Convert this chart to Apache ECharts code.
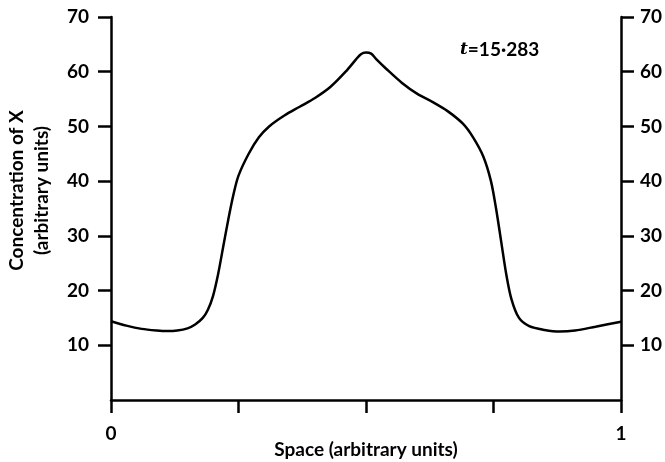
<!DOCTYPE html>
<html>
<head>
<meta charset="utf-8">
<script src="https://cdn.jsdelivr.net/npm/echarts@6/dist/echarts.min.js"></script>
<style>
  html, body { margin: 0; padding: 0; background: #fff; }
  #main { width: 665px; height: 462px; }
</style>
</head>
<body>
<div id="main"></div>
<script>
// space positions (0..1) and concentration of X
var spaceX = [0, 0.03, 0.06, 0.09, 0.11, 0.13, 0.15, 0.165, 0.18, 0.19, 0.2, 0.21, 0.22, 0.23, 0.24, 0.25,
  0.27, 0.29, 0.31, 0.34, 0.37, 0.40, 0.43, 0.46, 0.48, 0.49, 0.5, 0.51, 0.52, 0.54, 0.57, 0.6,
  0.63, 0.66, 0.69, 0.71, 0.73, 0.745, 0.755, 0.765, 0.775, 0.785, 0.8, 0.82, 0.85, 0.88, 0.91, 0.95, 1];
var concX = [14.4, 13.6, 13.0, 12.7, 12.6, 12.7, 13.1, 13.8, 15.0, 16.5, 19.0, 23.0, 28.0, 33.0, 37.5, 41.0,
  45.0, 48.0, 50.0, 52.0, 53.6, 55.2, 57.2, 60.0, 62.2, 63.2, 63.5, 63.3, 62.3, 60.5, 58.0, 56.0,
  54.5, 52.8, 50.5, 48.0, 44.5, 40.0, 35.0, 29.0, 23.0, 18.5, 15.0, 13.5, 12.8, 12.5, 12.7, 13.4, 14.3];
var yTicks = [10, 20, 30, 40, 50, 60, 70];
var xTicks = [0, 0.25, 0.5, 0.75, 1];
var xLabels = [0, 1];

var data = [];
for (var i = 0; i < spaceX.length; i++) {
  data.push([spaceX[i], concX[i]]);
}

var font = 'Lato';
var txt = { fontFamily: font, fontSize: 19, fontWeight: 'bold', color: '#000' };
var axisLine = { show: true, lineStyle: { color: '#000', width: 2.5 } };
var tickStyle = { color: '#000', width: 2.5 };

var myChart = echarts.init(document.getElementById('main'));
var option = {
  backgroundColor: '#fff',
  animation: false,
  title: {
    left: 455,
    top: 35,
    text: '{i|t}=15·283',
    textStyle: {
      rich: {
        i: { fontStyle: 'italic', fontFamily: 'DejaVu Serif', fontSize: 17, color: '#000' }
      },
      fontFamily: font,
      fontSize: 19,
      fontWeight: 'bold',
      color: '#000'
    }
  },
  grid: { left: 111, right: 44, top: 17, bottom: 62, outerBoundsMode: 'none' },
  xAxis: {
    type: 'value',
    min: 0,
    max: 1,
    name: 'Space (arbitrary units)',
    nameLocation: 'middle',
    nameGap: 40,
    nameMoveOverlap: false,
    nameTextStyle: txt,
    axisLine: axisLine,
    splitLine: { show: false },
    axisTick: { show: true, length: 13, customValues: xTicks, lineStyle: tickStyle },
    axisLabel: Object.assign({ customValues: xLabels, margin: 24 }, txt)
  },
  yAxis: [{
    type: 'value',
    min: 0,
    max: 70,
    position: 'left',
    name: 'Concentration of X\n(arbitrary units)',
    nameLocation: 'middle',
    nameGap: 57,
    nameMoveOverlap: false,
    nameRotate: 90,
    nameTextStyle: Object.assign({ lineHeight: 25, padding: [0, 0, 0, 36] }, txt),
    axisLine: axisLine,
    splitLine: { show: false },
    axisTick: { show: true, length: 13, customValues: yTicks, lineStyle: tickStyle },
    axisLabel: Object.assign({ customValues: yTicks, margin: 22 }, txt)
  }, {
    type: 'value',
    min: 0,
    max: 70,
    position: 'right',
    axisLine: axisLine,
    splitLine: { show: false },
    axisTick: { show: true, length: 13, customValues: yTicks, lineStyle: tickStyle },
    axisLabel: Object.assign({ customValues: yTicks, margin: 19 }, txt)
  }],
  series: [{
    type: 'line',
    data: data,
    smooth: 0.3,
    showSymbol: false,
    lineStyle: { color: '#000', width: 2.5 }
  }]
};
myChart.setOption(option);
</script>
</body>
</html>
